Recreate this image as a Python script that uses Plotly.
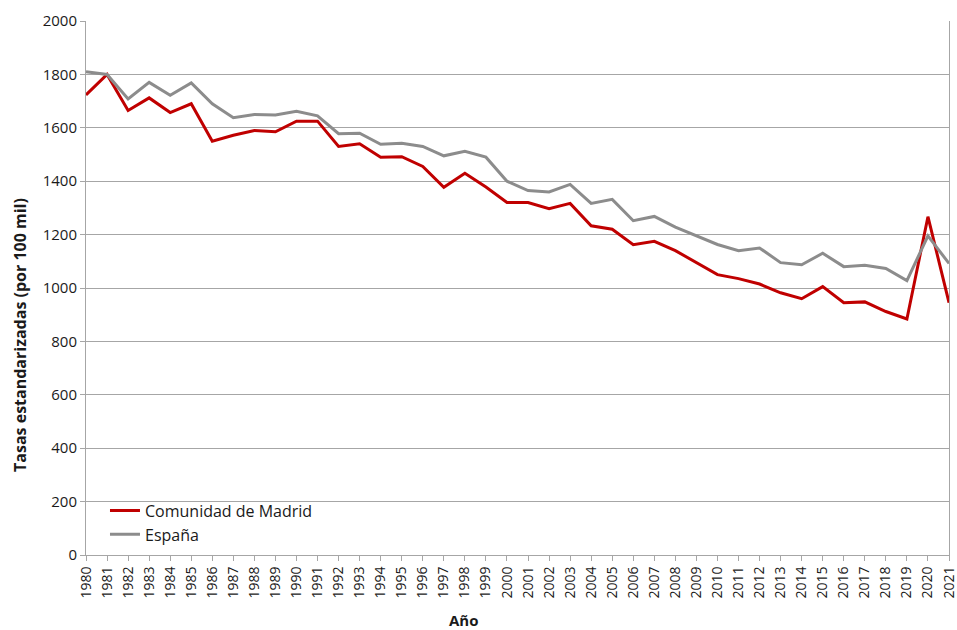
import plotly.graph_objects as go

years = [str(y) for y in range(1980, 2022)]

madrid = [1723, 1800, 1665, 1712, 1657, 1690, 1550, 1572, 1590, 1585,
          1625, 1625, 1530, 1540, 1490, 1492, 1455, 1377, 1430, 1378,
          1320, 1320, 1297, 1317, 1233, 1220, 1162, 1175, 1140, 1095,
          1050, 1035, 1015, 982, 960, 1005, 945, 948, 912, 884,
          1267, 945]

espana = [1810, 1800, 1708, 1770, 1722, 1768, 1690, 1638, 1650, 1648,
          1662, 1645, 1578, 1580, 1538, 1542, 1530, 1495, 1512, 1490,
          1400, 1365, 1360, 1388, 1317, 1332, 1252, 1268, 1228, 1195,
          1163, 1140, 1150, 1095, 1087, 1130, 1080, 1085, 1073, 1028,
          1195, 1092]

y_ticks = [0, 200, 400, 600, 800, 1000, 1200, 1400, 1600, 1800, 2000]

fig = go.Figure()
fig.add_trace(go.Scatter(x=years, y=madrid, mode="lines", name="Comunidad de Madrid",
                         line=dict(color="#C00000", width=3)))
fig.add_trace(go.Scatter(x=years, y=espana, mode="lines", name="España",
                         line=dict(color="#8C8C8C", width=3)))

font_family = "Open Sans, Liberation Sans, sans-serif"

fig.update_layout(
    width=957, height=630,
    margin=dict(l=86, r=8, t=21, b=75),
    paper_bgcolor="white", plot_bgcolor="white",
    font=dict(family=font_family, size=14, color="#1a1a1a"),
    showlegend=True,
    legend=dict(x=0.022, y=0.115, xanchor="left", yanchor="top",
                bgcolor="rgba(0,0,0,0)", font=dict(size=16, color="#1a1a1a"),
                itemwidth=30, tracegroupgap=0),
    xaxis=dict(type="category", tickangle=-90, ticks="outside", ticklen=5,
               tickcolor="#A6A6A6", showline=True, linecolor="#A6A6A6", linewidth=1,
               showgrid=False, tickfont=dict(size=14), automargin=False,
               range=[0, len(years) - 1]),
    yaxis=dict(range=[0, 2000], tickvals=y_ticks, ticks="outside", ticklen=5,
               tickcolor="#A6A6A6", showline=True, linecolor="#A6A6A6", linewidth=1,
               mirror=True, showgrid=True, gridcolor="#A6A6A6", gridwidth=1,
               zeroline=False, tickfont=dict(size=15), automargin=False),
    annotations=[
        dict(text="<b>Año</b>", xref="paper", yref="paper", x=0.438, y=-0.1217,
             xanchor="center", yanchor="middle", showarrow=False,
             font=dict(size=15, color="#1a1a1a")),
        dict(text="<b>Tasas estandarizadas (por 100 mil)</b>", xref="paper", yref="paper",
             x=-0.0765, y=0.412, xanchor="center", yanchor="middle", textangle=-90,
             showarrow=False, font=dict(size=16, color="#1a1a1a")),
    ],
)

fig.write_html("out.html",
               config={"displayModeBar": False},
               post_script="document.body.style.margin='0';document.body.style.overflow='hidden';")
